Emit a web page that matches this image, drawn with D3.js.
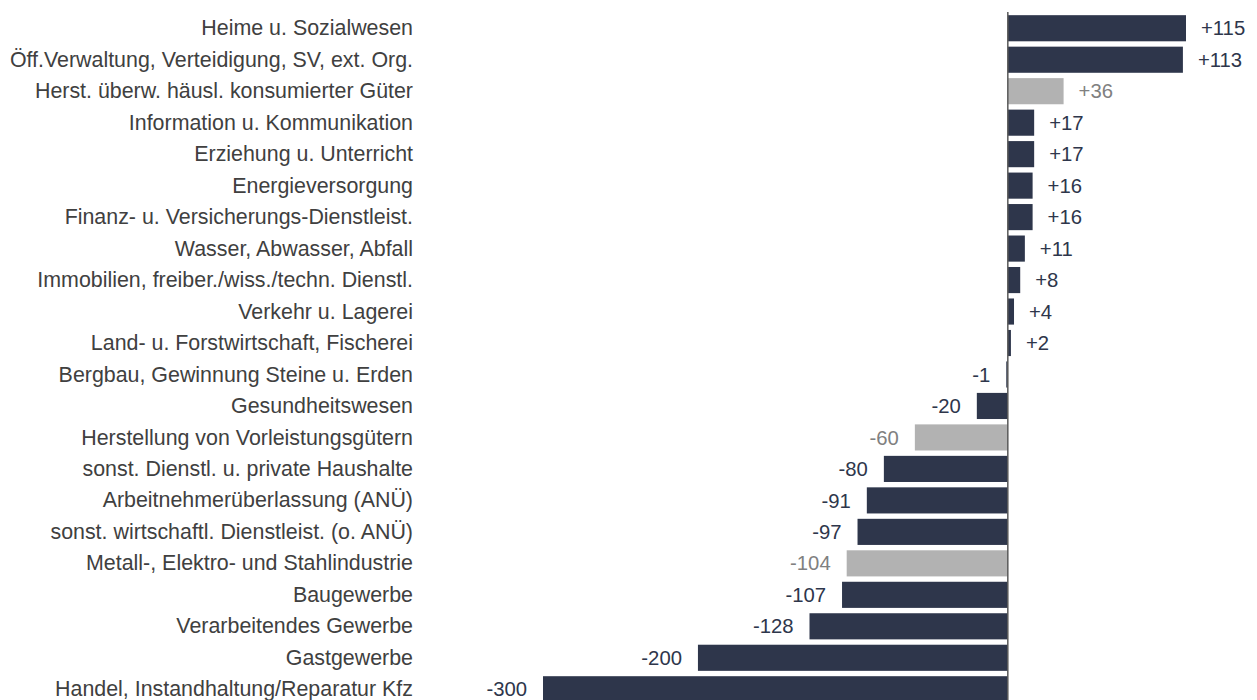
<!DOCTYPE html>
<html>
<head>
<meta charset="utf-8">
<script src="https://cdn.jsdelivr.net/npm/d3@7"></script>
<style>
  body { margin: 0; background: #fff; }
  text { font-family: "Liberation Sans", Arial, sans-serif; }
</style>
</head>
<body>
<div id="container"></div>
<script>
// branches, top to bottom
var categories = [
  "Heime u. Sozialwesen",
  "Öff.Verwaltung, Verteidigung, SV, ext. Org.",
  "Herst. überw. häusl. konsumierter Güter",
  "Information u. Kommunikation",
  "Erziehung u. Unterricht",
  "Energieversorgung",
  "Finanz- u. Versicherungs-Dienstleist.",
  "Wasser, Abwasser, Abfall",
  "Immobilien, freiber./wiss./techn. Dienstl.",
  "Verkehr u. Lagerei",
  "Land- u. Forstwirtschaft, Fischerei",
  "Bergbau, Gewinnung Steine u. Erden",
  "Gesundheitswesen",
  "Herstellung von Vorleistungsgütern",
  "sonst. Dienstl. u. private Haushalte",
  "Arbeitnehmerüberlassung (ANÜ)",
  "sonst. wirtschaftl. Dienstleist. (o. ANÜ)",
  "Metall-, Elektro- und Stahlindustrie",
  "Baugewerbe",
  "Verarbeitendes Gewerbe",
  "Gastgewerbe",
  "Handel, Instandhaltung/Reparatur Kfz"
];
var values = [115, 113, 36, 17, 17, 16, 16, 11, 8, 4, 2, -1, -20, -60, -80, -91, -97, -104, -107, -128, -200, -300];
// sub-groups of manufacturing are shown in grey
var highlighted = [false, false, true, false, false, false, false, false, false, false, false, false, false, true, false, false, false, true, false, false, false, false];

var width = 1257, height = 700;
var darkColor = "#2e364b", greyColor = "#b2b2b2";

var svg = d3.select("#container")
  .append("svg")
  .attr("width", width)
  .attr("height", height);

var x = d3.scaleLinear()
  .domain([-300, 115])
  .range([543, 1186]);

var y = d3.scaleBand()
  .domain(categories)
  .range([12.5, 705])
  .paddingInner(0.17)
  .paddingOuter(0.085);

// bars
svg.selectAll("rect.bar")
  .data(values)
  .enter()
  .append("rect")
  .attr("class", "bar")
  .attr("x", function(d){ return x(Math.min(0, d)); })
  .attr("y", function(d, i){ return y(categories[i]); })
  .attr("width", function(d){ return Math.abs(x(d) - x(0)); })
  .attr("height", y.bandwidth())
  .attr("fill", function(d, i){ return highlighted[i] ? greyColor : darkColor; });

// zero line
svg.append("line")
  .attr("x1", x(0)).attr("x2", x(0))
  .attr("y1", 12).attr("y2", height)
  .style("stroke", "#595959")
  .style("stroke-width", 1.5);

// category labels
svg.selectAll("text.cat")
  .data(categories)
  .enter()
  .append("text")
  .attr("class", "cat")
  .attr("x", 413)
  .attr("y", function(d){ return y(d) + y.bandwidth() / 2; })
  .attr("dy", "0.33em")
  .attr("text-anchor", "end")
  .style("font-size", "21.4px")
  .style("fill", "#404040")
  .text(function(d){ return d; });

// value labels
svg.selectAll("text.val")
  .data(values)
  .enter()
  .append("text")
  .attr("class", "val")
  .attr("x", function(d){ return d >= 0 ? x(d) + 15 : x(d) - 16; })
  .attr("y", function(d, i){ return y(categories[i]) + y.bandwidth() / 2; })
  .attr("dy", "0.35em")
  .attr("text-anchor", function(d){ return d >= 0 ? "start" : "end"; })
  .style("font-size", "20.3px")
  .style("fill", function(d, i){ return highlighted[i] ? "#808080" : darkColor; })
  .text(function(d){ return d > 0 ? "+" + d : d; });
</script>
</body>
</html>
